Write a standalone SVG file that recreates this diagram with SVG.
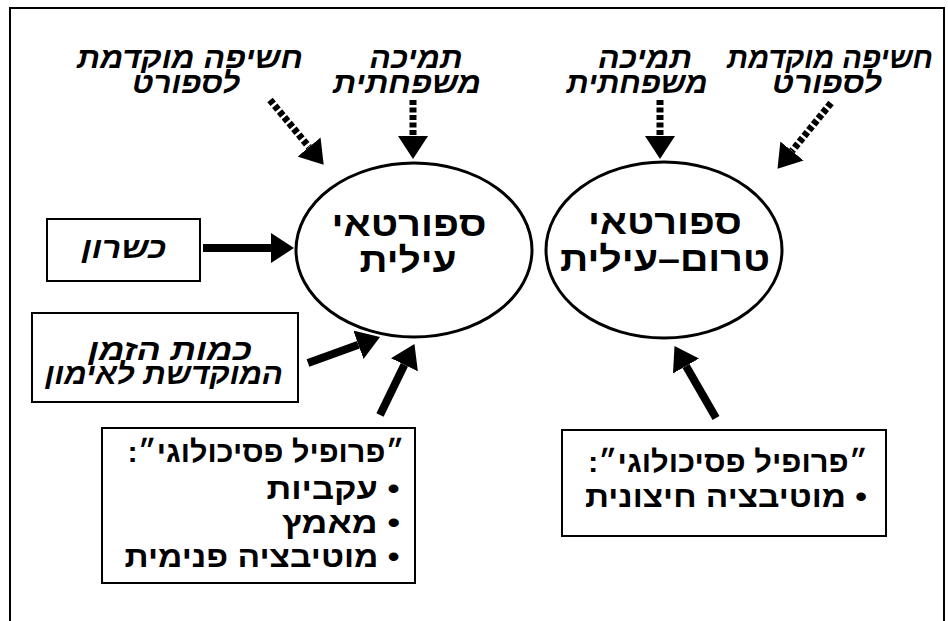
<svg xmlns="http://www.w3.org/2000/svg" width="948" height="621" viewBox="0 0 948 621">
<defs>
<marker id="ah" viewBox="0 0 23 30" refX="0" refY="15" markerWidth="23" markerHeight="30" markerUnits="userSpaceOnUse" orient="auto">
<path d="M0,0 L23,15 L0,30 z" fill="#000"/>
</marker>
<style>
text{font-family:"Liberation Sans",Arial,"DejaVu Sans",sans-serif;font-weight:bold;fill:#000;direction:rtl;unicode-bidi:embed;text-anchor:middle}
.lbl{font-style:italic;font-size:29px}
.big{font-size:35px}
.bx{font-size:30px}
.node{fill:#fff;stroke:#000;stroke-width:2}
.ell{fill:#fff;stroke:#000;stroke-width:3}
.dash{stroke:#000;stroke-width:7;stroke-dasharray:5 2.5;fill:none;marker-end:url(#ah)}
.solid{stroke:#000;stroke-width:8;fill:none;marker-end:url(#ah)}
</style>
</defs>
<rect x="0" y="0" width="948" height="621" fill="#fff"/>
<rect x="10" y="8" width="934" height="640" fill="none" stroke="#000" stroke-width="2"/>

<g id="elite">
<ellipse class="ell" cx="414" cy="250" rx="118" ry="87"/>
<text class="big" x="409" y="236" textLength="155" lengthAdjust="spacingAndGlyphs">ספורטאי</text>
<text class="big" x="408" y="272" textLength="97" lengthAdjust="spacingAndGlyphs">עילית</text>
</g>
<g id="preelite">
<ellipse class="ell" cx="664" cy="250" rx="118" ry="88"/>
<text class="big" x="665" y="234" textLength="154" lengthAdjust="spacingAndGlyphs">ספורטאי</text>
<text class="big" x="665" y="271" textLength="210" lengthAdjust="spacingAndGlyphs">טרום–עילית</text>
</g>

<g id="exposure-left">
<text class="lbl" x="190" y="68" textLength="226" lengthAdjust="spacingAndGlyphs">חשיפה מוקדמת</text>
<text class="lbl" x="186" y="93" textLength="108" lengthAdjust="spacingAndGlyphs">לספורט</text>
</g>
<g id="family-left">
<text class="lbl" x="416" y="68" textLength="93" lengthAdjust="spacingAndGlyphs">תמיכה</text>
<text class="lbl" x="407" y="93" textLength="148" lengthAdjust="spacingAndGlyphs">משפחתית</text>
</g>
<g id="family-right">
<text class="lbl" x="645" y="68" textLength="94" lengthAdjust="spacingAndGlyphs">תמיכה</text>
<text class="lbl" x="637" y="93" textLength="141" lengthAdjust="spacingAndGlyphs">משפחתית</text>
</g>
<g id="exposure-right">
<text class="lbl" x="830" y="68" textLength="206" lengthAdjust="spacingAndGlyphs">חשיפה מוקדמת</text>
<text class="lbl" x="827" y="93" textLength="110" lengthAdjust="spacingAndGlyphs">לספורט</text>
</g>

<g id="talent">
<rect class="node" x="47" y="219" width="153" height="62"/>
<text class="lbl" x="124" y="258" textLength="85" lengthAdjust="spacingAndGlyphs">כשרון</text>
</g>
<g id="training-time">
<rect class="node" x="32" y="313" width="266" height="89"/>
<text class="lbl" x="170" y="360" textLength="164" lengthAdjust="spacingAndGlyphs">כמות הזמן</text>
<text class="lbl" x="164" y="384" textLength="238" lengthAdjust="spacingAndGlyphs">המוקדשת לאימון</text>
</g>
<g id="profile-left">
<rect class="node" x="102" y="428" width="313" height="155"/>
<text class="bx" x="266" y="462" textLength="277" lengthAdjust="spacingAndGlyphs">״פרופיל פסיכולוגי״:</text>
<text class="bx" x="333" y="499" textLength="133" lengthAdjust="spacingAndGlyphs">• עקביות</text>
<text class="bx" x="341" y="533" textLength="118" lengthAdjust="spacingAndGlyphs">• מאמץ</text>
<text class="bx" x="262" y="567" textLength="275" lengthAdjust="spacingAndGlyphs">• מוטיבציה פנימית</text>
</g>
<g id="profile-right">
<rect class="node" x="562" y="430" width="324" height="106"/>
<text class="bx" x="728" y="472" textLength="280" lengthAdjust="spacingAndGlyphs">״פרופיל פסיכולוגי״:</text>
<text class="bx" x="726" y="507" textLength="282" lengthAdjust="spacingAndGlyphs">• מוטיבציה חיצונית</text>
</g>

<g id="connectors">
<line class="dash" x1="270" y1="100" x2="309" y2="147"/>
<line class="dash" x1="413" y1="100" x2="413" y2="136"/>
<line class="dash" x1="660" y1="100" x2="660" y2="136"/>
<line class="dash" x1="831" y1="103" x2="792" y2="151"/>
<line class="solid" x1="203" y1="248" x2="271" y2="248"/>
<line class="solid" x1="308" y1="363" x2="358.4" y2="344.8"/>
<line class="solid" x1="380" y1="415" x2="404.4" y2="364.8"/>
<line class="solid" x1="716" y1="418" x2="686" y2="366"/>
</g>
</svg>
